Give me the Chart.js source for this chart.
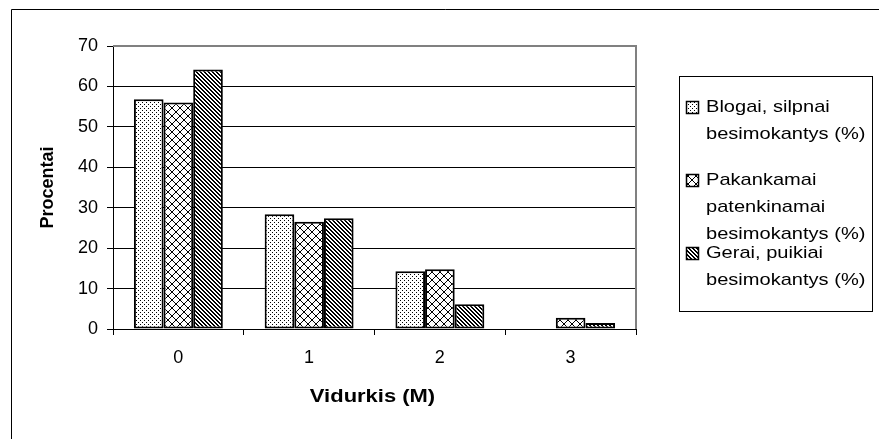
<!DOCTYPE html>
<html>
<head>
<meta charset="utf-8">
<script src="https://cdn.jsdelivr.net/npm/chart.js@4/dist/chart.umd.min.js"></script>
<style>
  html, body { margin: 0; padding: 0; background: #fff; }
  #wrap { width: 879px; height: 439px; }
</style>
</head>
<body>
<div id="wrap"><canvas id="chart" width="879" height="439"></canvas></div>
<script>
// ===============================
// DATA
// ===============================
const categories = ["0", "1", "2", "3"];
const blogai     = [56.8, 28.4, 14.3, 0];
const pakankamai = [56.0, 26.5, 14.8, 2.8];
const gerai      = [64.2, 27.4, 6.1, 1.5];

// legend texts (wrapped like the original)
const legendLines = [
  ["Blogai, silpnai", "besimokantys (%)"],
  ["Pakankamai", "patenkinamai", "besimokantys (%)"],
  ["Gerai, puikiai", "besimokantys (%)"],
];

const yTitle = "Procentai";
const xTitle = "Vidurkis (M)";

// ===============================
// PATTERNS
// ===============================
function makePattern(size, pixels) {
  const c = document.createElement("canvas");
  c.width = size; c.height = size;
  const g = c.getContext("2d");
  g.fillStyle = "#fff";
  g.fillRect(0, 0, size, size);
  g.fillStyle = "#000";
  pixels.forEach(([x, y]) => g.fillRect(x, y, 1, 1));
  return document.getElementById("chart").getContext("2d").createPattern(c, "repeat");
}

// dots
const patDots = makePattern(4, [[0, 0], [2, 2]]);

// crosshatch (diamonds)
const crossPx = [];
for (let i = 0; i < 8; i++) { crossPx.push([i, i]); crossPx.push([i, 7 - i]); }
const patCross = makePattern(8, crossPx);

// dense diagonal "\\\"
const diagPx = [];
for (let i = 0; i < 4; i++) { diagPx.push([i, i]); diagPx.push([(i + 1) % 4, i]); }
const patDiag = makePattern(4, diagPx);

const patterns = [patDots, patCross, patDiag];

// ===============================
// EXTRA DRAWING (frame, titles, legend)
// ===============================
const FONT = "'Liberation Sans', Arial, sans-serif";

function stretchedText(ctx, text, x, y, sx, align) {
  ctx.save();
  ctx.translate(x, y);
  ctx.scale(sx, 1);
  ctx.textAlign = align;
  ctx.fillText(text, 0, 0);
  ctx.restore();
}

const decor = {
  id: "decor",
  beforeDraw(chart) {
    const ctx = chart.ctx;
    ctx.save();
    ctx.fillStyle = "#fff";
    ctx.fillRect(0, 0, chart.width, chart.height);
    ctx.restore();
  },
  afterDatasetsDraw(chart) {
    const ctx = chart.ctx;
    const a = chart.chartArea;
    // plot area border (grey, top + right)
    ctx.save();
    ctx.strokeStyle = "#808080";
    ctx.lineWidth = 2;
    ctx.beginPath();
    ctx.moveTo(a.left, a.top);
    ctx.lineTo(a.right, a.top);
    ctx.lineTo(a.right, a.bottom);
    ctx.stroke();
    ctx.restore();
  },
  afterDraw(chart) {
    const ctx = chart.ctx;
    const a = chart.chartArea;
    ctx.save();

    // outer chart frame (left + top visible)
    ctx.strokeStyle = "#000";
    ctx.lineWidth = 1;
    ctx.beginPath();
    ctx.moveTo(11.5, 440);
    ctx.lineTo(11.5, 9.5);
    ctx.lineTo(880, 9.5);
    ctx.stroke();

    // axis titles
    ctx.fillStyle = "#000";
    ctx.textBaseline = "middle";
    ctx.font = "bold 18px " + FONT;
    stretchedText(ctx, xTitle, (a.left + a.right) / 2 - 2, 397, 1.22, "center");

    ctx.save();
    ctx.translate(48, (a.top + a.bottom) / 2);
    ctx.rotate(-Math.PI / 2);
    ctx.textAlign = "center";
    ctx.fillText(yTitle, 0, 0);
    ctx.restore();

    // legend box
    const box = { left: 679.5, top: 76.5, right: 872.5, bottom: 311.5 };
    ctx.strokeStyle = "#000";
    ctx.lineWidth = 1;
    ctx.strokeRect(box.left, box.top, box.right - box.left, box.bottom - box.top);

    ctx.font = "17px " + FONT;
    legendLines.forEach((lines, k) => {
      const y0 = 107 + k * 73;
      // symbol
      ctx.fillStyle = patterns[k];
      ctx.fillRect(686, y0 - 6, 13, 13);
      ctx.strokeStyle = "#000";
      ctx.lineWidth = 1.5;
      ctx.strokeRect(686.5, y0 - 5.5, 12, 12);
      ctx.fillStyle = "#000";
      lines.forEach((t, j) => {
        stretchedText(ctx, t, 706, y0 + j * 27, 1.18, "left");
      });
    });

    ctx.restore();
  },
};

// ===============================
// CHART
// ===============================
const colorsForDatasets = [blogai, pakankamai, gerai].map((d, i) => ({
  label: legendLines[i].join(" "),
  data: d,
  backgroundColor: patterns[i],
  borderColor: "#000",
  borderWidth: 2,
  borderSkipped: false,
}));

new Chart(document.getElementById("chart"), {
  type: "bar",
  data: { labels: categories, datasets: colorsForDatasets },
  plugins: [decor],
  options: {
    responsive: false,
    animation: false,
    layout: { padding: { top: 46, right: 243, left: 0, bottom: 0 } },
    plugins: { legend: { display: false }, tooltip: { enabled: false } },
    datasets: { bar: { categoryPercentage: 0.68, barPercentage: 1.0 } },
    scales: {
      x: {
        grid: {
          offset: true,
          drawOnChartArea: false,
          tickLength: 6,
          tickColor: "#000",
          tickWidth: 1,
        },
        border: { color: "#000", width: 1 },
        ticks: { color: "#000", font: { family: FONT, size: 18 }, padding: 12 },
        afterFit(scale) { scale.height = 110; },
      },
      y: {
        min: 0,
        max: 70,
        ticks: { stepSize: 10, color: "#000", font: { family: FONT, size: 18 }, padding: 9 },
        grid: {
          color: (c) => (c.tick && c.tick.value === 70 ? "#808080" : "#000"),
          tickColor: "#000",
          tickLength: 6,
          lineWidth: 1,
        },
        border: { color: "#000", width: 1 },
        afterFit(scale) { scale.width = 113; },
      },
    },
  },
});
</script>
</body>
</html>
